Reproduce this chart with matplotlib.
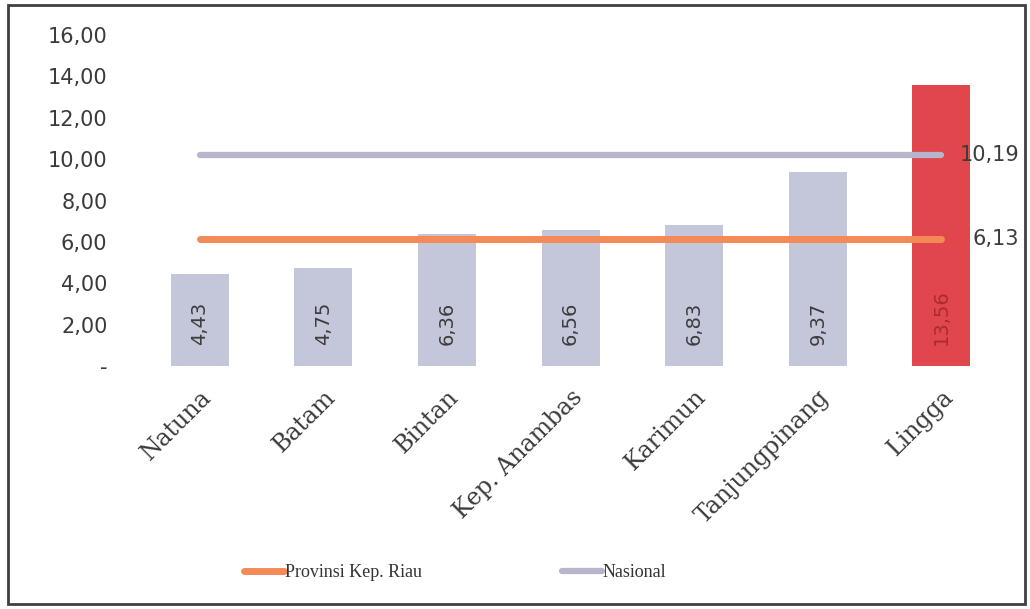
import matplotlib
matplotlib.use("Agg")
import matplotlib.pyplot as plt
from matplotlib.patches import Rectangle

categories = ["Natuna", "Batam", "Bintan", "Kep. Anambas", "Karimun", "Tanjungpinang", "Lingga"]
values = [4.43, 4.75, 6.36, 6.56, 6.83, 9.37, 13.56]
value_labels = ["4,43", "4,75", "6,36", "6,56", "6,83", "9,37", "13,56"]
provinsi = 6.13
nasional = 10.19
yticks = [0, 2, 4, 6, 8, 10, 12, 14, 16]
ytick_labels = ["-", "2,00", "4,00", "6,00", "8,00", "10,00", "12,00", "14,00", "16,00"]

bar_colors = ["#c3c7d9"] * 6 + ["#e0464b"]

fig = plt.figure(figsize=(10.30, 6.09), dpi=100)
ax = fig.add_axes([0.134, 0.399, 0.840, 0.5435])

x = list(range(len(categories)))
ax.bar(x, values, width=0.47, color=bar_colors, zorder=2)

ax.plot([x[0], x[-1]], [nasional, nasional], color="#b7b5cc", lw=4.5,
        solid_capstyle="round", zorder=3, label="Nasional")
ax.plot([x[0], x[-1]], [provinsi, provinsi], color="#f38a58", lw=5,
        solid_capstyle="round", zorder=4, label="Provinsi Kep. Riau")

for xi, lab, i in zip(x, value_labels, range(len(x))):
    col = "#a82c30" if i == len(x) - 1 else "#3c3c3c"
    ax.annotate(lab, (xi, 0), xytext=(0, 15), textcoords="offset points",
                rotation=90, ha="center", va="bottom", fontsize=14,
                color=col, zorder=5)

ax.annotate("10,19", (x[-1], nasional), xytext=(56, 0), textcoords="offset points",
            ha="right", va="center", fontsize=15, color="#3c3c3c", zorder=6)
ax.annotate("6,13", (x[-1], provinsi), xytext=(56, 0), textcoords="offset points",
            ha="right", va="center", fontsize=15, color="#3c3c3c", zorder=6)

ax.set_xlim(-0.5, len(categories) - 0.5)
ax.set_ylim(0, 16)
ax.set_yticks(yticks)
ax.set_yticklabels(ytick_labels, fontsize=15, color="#3a3a3a")
ax.set_xticks(x)
ax.set_xticklabels(categories, rotation=45, ha="right", rotation_mode="anchor",
                   fontsize=17, family="DejaVu Serif", color="#3a3a3a")
ax.tick_params(axis="y", length=0, pad=22)
ax.tick_params(axis="x", length=0, pad=14)
for s in ax.spines.values():
    s.set_visible(False)

handles, labels = ax.get_legend_handles_labels()
leg = fig.legend(handles[::-1], labels[::-1], loc="center left", bbox_to_anchor=(0.221, 0.06),
                 ncol=2, frameon=False, columnspacing=7.8, handlelength=2.2,
                 handletextpad=0.05, prop={"family": "Liberation Serif", "size": 13})
for t in leg.get_texts():
    t.set_color("#333333")

fig.patches.append(Rectangle((0.008, 0.008), 0.987, 0.984, transform=fig.transFigure,
                             fill=False, edgecolor="#404040", lw=2))

fig.savefig("out.png", dpi=100)
